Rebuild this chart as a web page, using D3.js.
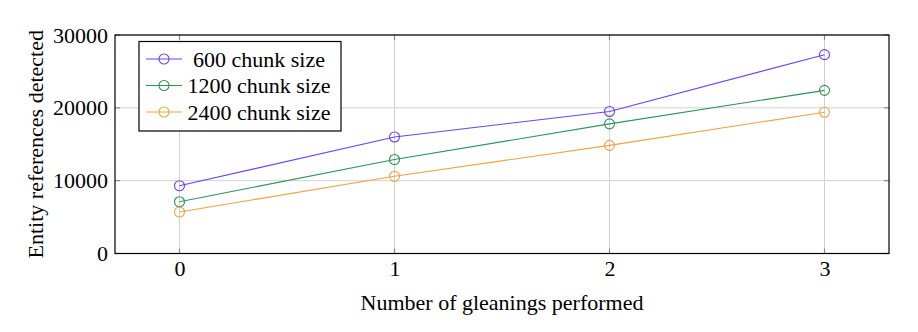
<!DOCTYPE html>
<html>
<head>
<meta charset="utf-8">
<script src="https://cdn.jsdelivr.net/npm/d3@7"></script>
<style>
  html, body { margin: 0; padding: 0; background: #fff; }
  svg { display: block; }
  svg text { font-family: "Liberation Serif", "Times New Roman", Times, serif; }
</style>
</head>
<body>
<svg id="chart" width="918" height="332"></svg>
<script>
// Gleaning passes on the x axis
const gleanings = [0, 1, 2, 3];
// Entity references detected per chunk size
const chunk600 = [9300, 16000, 19500, 27300];
const chunk1200 = [7100, 12900, 17800, 22400];
const chunk2400 = [5700, 10600, 14850, 19400];
const seriesNames = ["600 chunk size", "1200 chunk size", "2400 chunk size"];
const seriesColors = ["#6a42f5", "#2e9457", "#f4a23f"];
const yTicks = [0, 10000, 20000, 30000];

const FONT = 22;
const series = [chunk600, chunk1200, chunk2400].map((vals, i) => ({
  name: seriesNames[i], color: seriesColors[i],
  points: gleanings.map((g, j) => ({ x: g, y: vals[j] }))
}));

const svg = d3.select("#chart");
const m = { left: 115, right: 889, top: 35, bottom: 253.5 };

const x = d3.scaleLinear().domain([-0.3, 3.3]).range([m.left, m.right]);
const y = d3.scaleLinear().domain([0, 30000]).range([m.bottom, m.top]);

// grid lines
const grid = svg.append("g");
grid.selectAll(".gx").data(gleanings).join("line")
  .attr("x1", d => x(d)).attr("x2", d => x(d))
  .attr("y1", m.top).attr("y2", m.bottom)
  .attr("stroke", "#d2d2d2").attr("stroke-width", 1);
grid.selectAll(".gy").data(yTicks).join("line")
  .attr("x1", m.left).attr("x2", m.right)
  .attr("y1", d => y(d)).attr("y2", d => y(d))
  .attr("stroke", "#d2d2d2").attr("stroke-width", 1);

// inward tick marks on all four sides
const tk = svg.append("g").attr("stroke", "#8a8a8a").attr("stroke-width", 1.2);
gleanings.forEach(d => {
  tk.append("line").attr("x1", x(d)).attr("x2", x(d)).attr("y1", m.bottom).attr("y2", m.bottom - 5);
  tk.append("line").attr("x1", x(d)).attr("x2", x(d)).attr("y1", m.top).attr("y2", m.top + 5);
});
yTicks.forEach(d => {
  tk.append("line").attr("x1", m.left).attr("x2", m.left + 5).attr("y1", y(d)).attr("y2", y(d));
  tk.append("line").attr("x1", m.right).attr("x2", m.right - 5).attr("y1", y(d)).attr("y2", y(d));
});

// axes with tick labels
const xAxis = svg.append("g").attr("transform", `translate(0,${m.bottom})`)
  .call(d3.axisBottom(x).tickValues(gleanings).tickFormat(d3.format("d")).tickSize(0).tickPadding(7));
const yAxis = svg.append("g").attr("transform", `translate(${m.left},0)`)
  .call(d3.axisLeft(y).tickValues(yTicks).tickFormat(d3.format("d")).tickSize(0).tickPadding(7));
[xAxis, yAxis].forEach(a => {
  a.attr("font-family", null).attr("font-size", null);
  a.select(".domain").remove();
  a.selectAll("text").attr("font-size", FONT).attr("fill", "#000");
});

// lines and circle markers
const line = d3.line().x(d => x(d.x)).y(d => y(d.y));
series.forEach(s => {
  svg.append("path").datum(s.points)
    .attr("d", line).attr("fill", "none").attr("stroke", s.color).attr("stroke-width", 1.1);
  svg.selectAll(null).data(s.points).join("circle")
    .attr("cx", d => x(d.x)).attr("cy", d => y(d.y)).attr("r", 5)
    .attr("fill", "none").attr("stroke", s.color).attr("stroke-width", 1.1);
});

// plot frame
svg.append("rect")
  .attr("x", m.left).attr("y", m.top)
  .attr("width", m.right - m.left).attr("height", m.bottom - m.top)
  .attr("fill", "none").attr("stroke", "#000").attr("stroke-width", 1.2);

// axis titles
svg.append("text")
  .attr("x", (m.left + m.right) / 2).attr("y", 310)
  .attr("text-anchor", "middle").attr("font-size", FONT)
  .text("Number of gleanings performed");
svg.append("text")
  .attr("transform", `translate(43,${(m.top + m.bottom) / 2}) rotate(-90)`)
  .attr("text-anchor", "middle").attr("font-size", FONT)
  .text("Entity references detected");

// legend
const lg = svg.append("g");
lg.append("rect")
  .attr("x", 139).attr("y", 41.5).attr("width", 202).attr("height", 89.5)
  .attr("fill", "#fff").attr("stroke", "#000").attr("stroke-width", 1.2);
series.forEach((s, i) => {
  const cy = 59 + i * 26.5;
  lg.append("line").attr("x1", 146).attr("x2", 182).attr("y1", cy).attr("y2", cy)
    .attr("stroke", s.color).attr("stroke-width", 1.1);
  lg.append("circle").attr("cx", 164).attr("cy", cy).attr("r", 5)
    .attr("fill", "none").attr("stroke", s.color).attr("stroke-width", 1.1);
  lg.append("text").attr("x", 259).attr("y", cy).attr("dy", "0.35em")
    .attr("text-anchor", "middle").attr("font-size", FONT).text(s.name);
});
</script>
</body>
</html>
